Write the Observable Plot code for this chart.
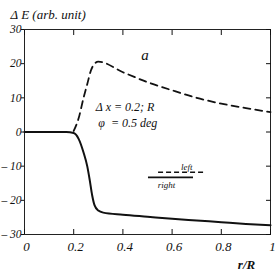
<!DOCTYPE html>
<html>
<head>
<meta charset="utf-8">
<script src="https://cdn.jsdelivr.net/npm/d3@7"></script>
<script src="https://cdn.jsdelivr.net/npm/@observablehq/plot@0.6"></script>
<style>
  html, body { margin: 0; padding: 0; background: #fff; }
  #chart svg { display: block; }
  #chart svg, #chart svg text { font-family: "Liberation Serif", "Times New Roman", serif !important; font-style: italic; }
</style>
</head>
<body>
<div id="chart"></div>
<script>
// Solid curve ("right")
const rSolid   = [0, 0.1, 0.17, 0.2, 0.22, 0.24, 0.255, 0.265, 0.275, 0.285, 0.3, 0.32, 0.4, 0.5, 0.6, 0.7, 0.8, 0.9, 1.0];
const eSolid   = [0, 0, 0, -0.3, -2, -6, -10, -14, -18.5, -21.5, -23, -23.6, -24.2, -24.8, -25.4, -25.9, -26.4, -26.9, -27.3];
// Dashed curve ("left")
const rDashed  = [0.2, 0.22, 0.24, 0.255, 0.27, 0.285, 0.3, 0.4, 0.5, 0.6, 0.7, 0.8, 0.9, 1.0];
const eDashed  = [0.3, 4, 10, 14, 18, 20, 20.6, 17.5, 14.6, 12.2, 10.0, 8.3, 7.0, 5.8];

const xTicks = [0, 0.2, 0.4, 0.6, 0.8, 1];
const yTicks = [-30, -20, -10, 0, 10, 20, 30];

const yTitle = "Δ E (arb. unit)";
const xTitle = "r/R";
const panelLabel = "a";
const note1 = "Δ x = 0.2; R";
const note2 = "φ  = 0.5 deg";
const legendLeft = "left";
const legendRight = "right";

const solidData = rSolid.map((r, i) => ({r, e: eSolid[i]}));
const dashedData = rDashed.map((r, i) => ({r, e: eDashed[i]}));

const ink = "#111";
const serif = "Liberation Serif";

const chart = Plot.plot({
  width: 277,
  height: 277,
  marginLeft: 24,
  marginRight: 7,
  marginTop: 29,
  marginBottom: 43,
  style: { "font-family": serif, "font-style": "italic", "font-size": "11px", "color": ink, "background": "#fff" },
  x: { domain: [0, 1] },
  y: { domain: [-30, 30] },
  marks: [
    Plot.frame({ stroke: "#222", strokeWidth: 1 }),
    // bottom: inward ticks + labels
    Plot.axisX(xTicks, { anchor: "bottom", tickSize: -5, tickFormat: () => "", label: null, stroke: ink }),
    Plot.axisX(xTicks, { anchor: "bottom", tickSize: 0, tickPadding: 7, label: null, dx: 2, fontSize: 13,
      fontFamily: serif, tickFormat: d => String(d) }),
    // top: inward ticks
    Plot.axisX(xTicks, { anchor: "top", tickSize: -5, tickFormat: () => "", label: null, stroke: ink }),
    // left ticks + labels
    Plot.axisY(yTicks, { anchor: "left", tickSize: 3, tickPadding: 0, label: null, fontSize: 11.5, stroke: ink,
      fontFamily: serif, tickFormat: d => d < 0 ? "– " + (-d) : String(d) }),
    // right: inward ticks
    Plot.axisY(yTicks, { anchor: "right", tickSize: -5, tickFormat: () => "", label: null, stroke: ink }),
    // curves
    Plot.line(solidData, { x: "r", y: "e", stroke: ink, strokeWidth: 2, curve: "monotone-x" }),
    Plot.line(dashedData, { x: "r", y: "e", stroke: ink, strokeWidth: 1.8, strokeDasharray: "7,5", curve: "monotone-x" }),
    // legend
    Plot.ruleY([-13.3], { x1: 0.504, x2: 0.687, stroke: ink, strokeWidth: 1.8 }),
    Plot.ruleY([-11.8], { x1: 0.545, x2: 0.728, stroke: ink, strokeWidth: 1.6, strokeDasharray: "5,3" }),
    Plot.text([legendLeft], { x: 0.66, y: -10.2, fontSize: 9, fontFamily: serif, fill: ink }),
    Plot.text([legendRight], { x: 0.577, y: -15.4, fontSize: 9, fontFamily: serif, fill: ink }),
    // annotations
    Plot.text([panelLabel], { x: 0.49, y: 22.6, fontSize: 15, fontFamily: serif, fill: ink }),
    Plot.text([note1], { x: 0.29, y: 7.3, textAnchor: "start", fontSize: 12, fontFamily: serif, fill: ink }),
    Plot.text([note2], { x: 0.30, y: 2.6, textAnchor: "start", fontSize: 12, fontFamily: serif, fill: ink }),
    // axis titles
    Plot.text([yTitle], { frameAnchor: "top-left", dx: -14, dy: -20, textAnchor: "start", fontSize: 13, fontFamily: serif, fill: ink }),
    Plot.text([xTitle], { frameAnchor: "bottom-right", dx: -24, dy: 34, textAnchor: "middle", fontSize: 13, fontWeight: "bold", fontFamily: serif, fill: ink })
  ]
});
document.getElementById("chart").appendChild(chart);
</script>
</body>
</html>
